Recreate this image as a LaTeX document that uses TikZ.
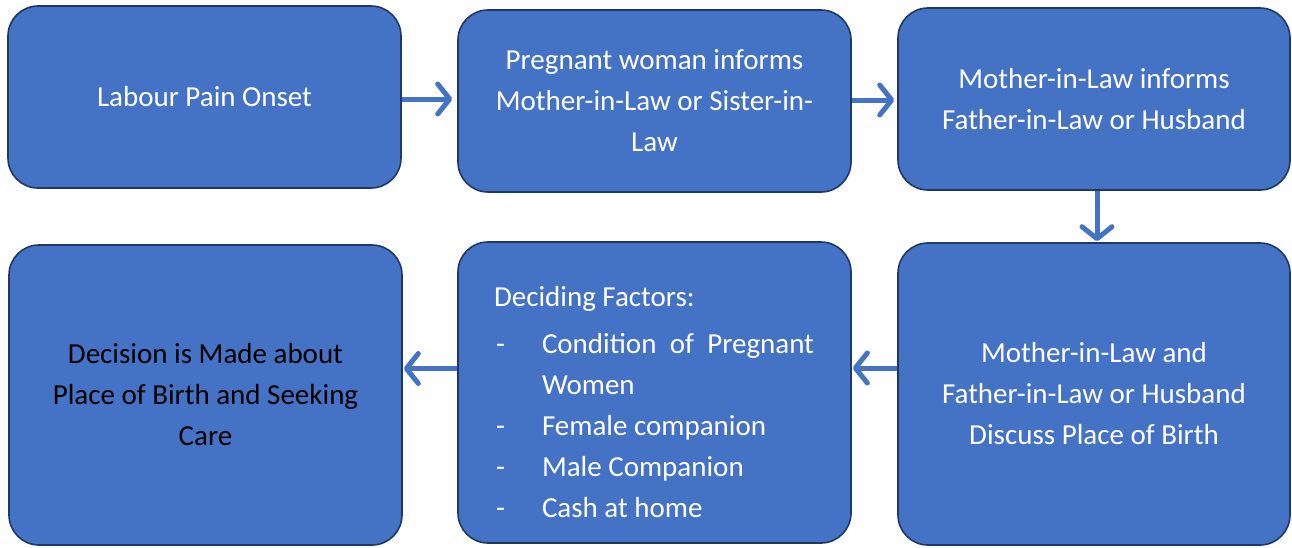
\documentclass[tikz,border=0pt]{standalone}
\usepackage{fontspec}
\setmainfont{Carlito}
\usetikzlibrary{arrows.meta}
\definecolor{boxblue}{HTML}{4472C4}
\definecolor{boxedge}{HTML}{203864}
\tikzset{
  flowbox/.style={draw=boxedge, line width=1.6pt, fill=boxblue, rounded corners=30pt,
    inner sep=0pt, text=white, align=center,
    font=\fontsize{29}{41}\selectfont},
  flowtext/.style={inner sep=0pt, text=white, align=left, font=\fontsize{29}{41}\selectfont},
  flowarrow/.style={draw=boxblue, line width=5pt,
    -{Straight Barb[length=12pt, width=30pt, line cap=round, round]}}
}
\begin{document}
\begin{tikzpicture}[x=1pt,y=-1pt]
\useasboundingbox (0,0) rectangle (1292,547);
\node[flowbox, minimum width=393pt, minimum height=182pt] (b1) at (204.5,97) {Labour Pain Onset};
\node[flowbox, minimum width=393pt, minimum height=182pt] (b2) at (654.5,101) {Pregnant woman informs\\Mother-in-Law or Sister-in-\\Law};
\node[flowbox, minimum width=392pt, minimum height=182pt] (b3) at (1094,99) {Mother-in-Law informs\\Father-in-Law or Husband};
\node[flowbox, minimum width=392pt, minimum height=302pt] (b6) at (1094,394) {Mother-in-Law and\\Father-in-Law or Husband\\Discuss Place of Birth};
\node[flowbox, minimum width=393pt, minimum height=301pt] (b5) at (654.5,392.5) {};
\node[flowtext] (b5t) at (655,402) {%
\parbox{322pt}{Deciding Factors:\\[6pt]
\makebox[48pt][l]{\hspace{2pt}-}\makebox[272pt][s]{Condition\ \ of\ \ Pregnant}\\
\hspace*{48pt}Women\\
\makebox[48pt][l]{\hspace{2pt}-}Female companion\\
\makebox[48pt][l]{\hspace{2pt}-}Male Companion\\
\makebox[48pt][l]{\hspace{2pt}-}Cash at home}};
\node[flowbox, minimum width=393pt, minimum height=300pt, text=black] (b4) at (205.5,395) {Decision is Made about\\Place of Birth and Seeking\\Care};
\draw[flowarrow, shorten >=5pt] ([yshift=-2pt]b1.east) -- ([yshift=-2pt]b1.east -| b2.west);
\draw[flowarrow, shorten >=3pt] ([yshift=1pt]b2.east) -- ([yshift=1pt]b2.east -| b3.west);
\draw[flowarrow, shorten >=1pt] ([xshift=3pt]b3.south) -- ([xshift=3pt]b3.south |- b6.north);
\draw[flowarrow, shorten >=1pt] ([yshift=26pt]b6.west) -- ([yshift=26pt]b6.west -| b5.east);
\draw[flowarrow, shorten >=1pt] ([yshift=24pt]b5.west) -- ([yshift=24pt]b5.west -| b4.east);
\end{tikzpicture}
\end{document}
